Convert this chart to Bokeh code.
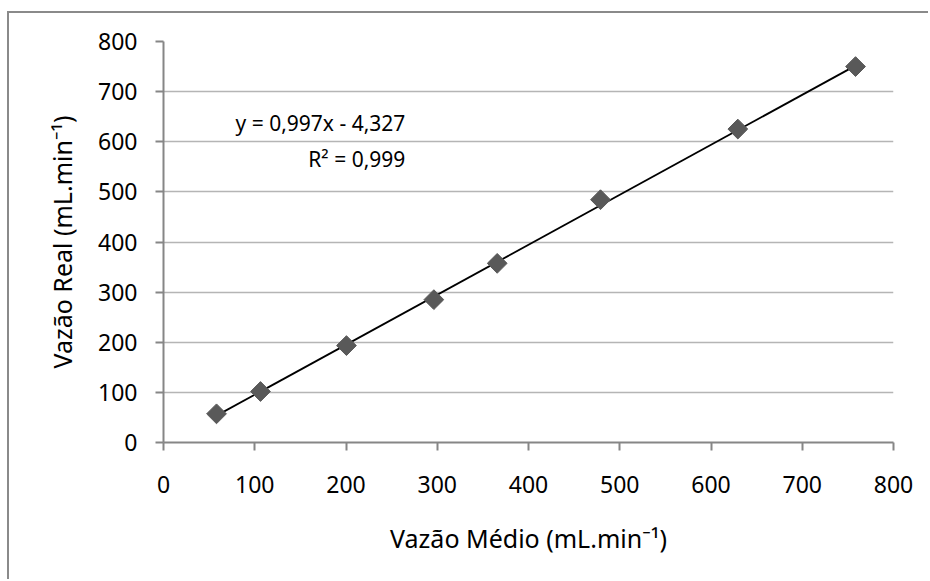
from bokeh.plotting import figure
from bokeh.models import Range1d, FixedTicker, ColumnDataSource
from bokeh.core.properties import value
from bokeh.embed import file_html
from bokeh.resources import INLINE
import numpy as np

# ---- data ----
vazao_medio = [58.1, 106.3, 200.5, 296.3, 365.7, 478.9, 629.4, 758.4]
vazao_real = [57.2, 101.7, 193.3, 285.0, 357.4, 484.4, 625.3, 750.0]
slope = 0.997
intercept = -4.327
eq_lines = ["y = 0,997x - 4,327", "R\u00b2 = 0,999"]
x_ticks = [0, 100, 200, 300, 400, 500, 600, 700, 800]
y_ticks = [0, 100, 200, 300, 400, 500, 600, 700, 800]
x_title = "Vaz\u00e3o M\u00e9dio (mL.min\u207b\u00b9)"
y_title = "Vaz\u00e3o Real (mL.min\u207b\u00b9)"

FONT = "Noto Sans"

p = figure(width=921, height=568, output_backend="svg", toolbar_location=None,
           x_range=Range1d(0, 800), y_range=Range1d(0, 800),
           min_border_left=154, min_border_right=37, min_border_top=28, min_border_bottom=139)
p.styles = {"margin-left": "7px", "margin-top": "11px",
            "border-left": "2px solid #8a8a8a", "border-top": "2px solid #8a8a8a"}
p.outline_line_color = None
p.background_fill_color = "white"
p.border_fill_color = "white"

# grid
p.xgrid.grid_line_color = None
p.ygrid.grid_line_color = "#b5b5b5"
p.ygrid.grid_line_width = 1.3
p.ygrid.ticker = FixedTicker(ticks=y_ticks[1:])

for ax, ticks in ((p.xaxis[0], x_ticks), (p.yaxis[0], y_ticks)):
    ax.ticker = FixedTicker(ticks=ticks)
    ax.minor_tick_line_color = None
    ax.major_tick_in = 0
    ax.major_tick_out = 8
    ax.axis_line_color = "#868686"
    ax.axis_line_width = 2
    ax.major_tick_line_color = "#868686"
    ax.major_tick_line_width = 2
    ax.major_label_text_font = FONT
    ax.major_label_text_font_size = "23px"
    ax.major_label_text_color = "black"
    ax.axis_label_text_font = FONT
    ax.axis_label_text_font_size = "25px"
    ax.axis_label_text_font_style = "normal"
    ax.axis_label_text_color = "black"

p.xaxis.axis_label = x_title
p.yaxis.axis_label = y_title
p.xaxis.major_label_standoff = 25
p.yaxis.major_label_standoff = 18
p.xaxis.axis_label_standoff = 25
p.yaxis.axis_label_standoff = 16

# trendline
xs = np.array([min(vazao_medio), max(vazao_medio)])
ys = slope * xs + intercept
p.line(xs, ys, line_color="black", line_width=1.8)

# markers (diamonds = rotated squares)
src = ColumnDataSource(dict(x=vazao_medio, y=vazao_real))
p.scatter("x", "y", source=src, marker="square", size=14, angle=np.pi / 4,
          fill_color="#595959", line_color="#595959")

# equation labels
p.text(x=[265, 265], y=[638, 566], text=eq_lines, text_align="right",
       text_baseline="alphabetic", text_font=value(FONT), text_font_size="21px",
       text_color="black")

open("out.html", "w").write(file_html(p, INLINE))
